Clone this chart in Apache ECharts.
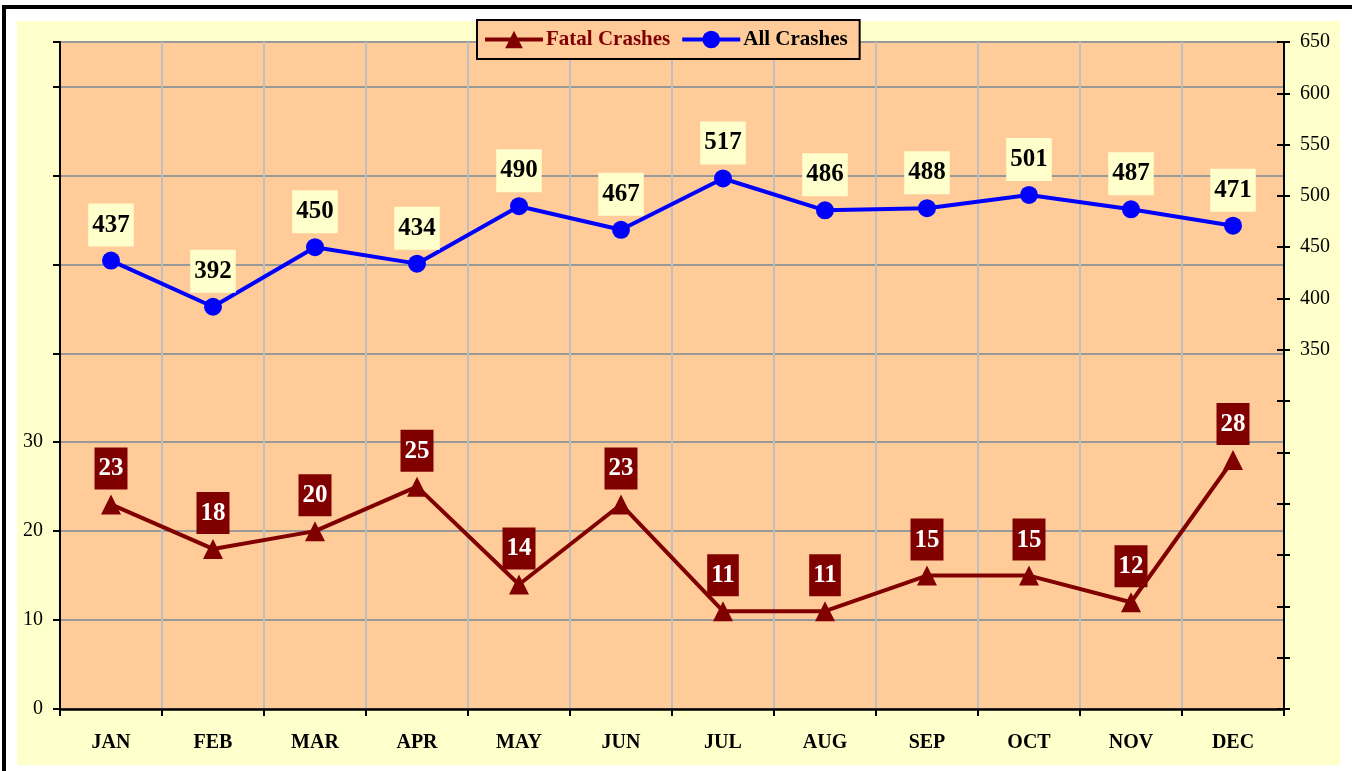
<!DOCTYPE html>
<html>
<head>
<meta charset="utf-8">
<script src="https://cdn.jsdelivr.net/npm/echarts@6/dist/echarts.min.js"></script>
<style>
  html, body { margin: 0; padding: 0; background: #ffffff; }
  #wrap { position: relative; width: 1352px; height: 771px; overflow: hidden; background: #ffffff; }
  #bL { position: absolute; left: 2px; top: 5px; width: 4px; height: 766px; background: #000; }
  #bT { position: absolute; left: 2px; top: 5px; width: 1350px; height: 4px; background: #000; }
  #yel { position: absolute; left: 17px; top: 21px; width: 1323px; height: 744px; background: #FFFFCC; }
  #chart { position: absolute; left: 0; top: 0; width: 1352px; height: 771px; }
</style>
</head>
<body>
<div id="wrap">
  <div id="bL"></div><div id="bT"></div><div id="yel"></div>
  <div id="chart"></div>
</div>
<script>
const months = ['JAN','FEB','MAR','APR','MAY','JUN','JUL','AUG','SEP','OCT','NOV','DEC'];
const fatalCrashes = [23, 18, 20, 25, 14, 23, 11, 11, 15, 15, 12, 28];
const allCrashes = [437, 392, 450, 434, 490, 467, 517, 486, 488, 501, 487, 471];
const leftLabelMax = 30;   // left axis labels shown up to this value
const rightLabelMin = 350; // right axis labels shown from this value

const SERIF = '"Liberation Serif", "Times New Roman", serif';
const DARKRED = '#800000';
const BLUE = '#0000FF';

const chart = echarts.init(document.getElementById('chart'));

chart.setOption({
  backgroundColor: 'transparent',
  animation: false,
  grid: { left: 60, right: 68, top: 42, bottom: 62, show: true, backgroundColor: '#FFCC99', borderWidth: 0, containLabel: false },
  legend: {
    left: 477, top: 20,
    orient: 'horizontal',
    backgroundColor: '#FFCC99',
    borderColor: '#000', borderWidth: 2,
    padding: [9, 12, 9, 6],
    itemGap: 10, itemWidth: 58, itemHeight: 22,
    lineStyle: { width: 4 },
    data: [
      { name: 'Fatal Crashes', textStyle: { color: DARKRED } },
      { name: 'All Crashes', textStyle: { color: '#000' } }
    ],
    textStyle: { fontFamily: SERIF, fontWeight: 'bold', fontSize: 21, padding: [0, 0, 0, -2] }
  },
  xAxis: {
    type: 'category', data: months, boundaryGap: true,
    axisLine: { show: true, lineStyle: { color: '#000', width: 2.5 } },
    axisTick: { show: true, length: 7, lineStyle: { color: '#000', width: 2 } },
    axisLabel: { fontFamily: SERIF, fontWeight: 'bold', fontSize: 20, color: '#000', margin: 24 },
    splitLine: { show: true, lineStyle: { color: '#BFBFBF', width: 2 } }
  },
  yAxis: [
    {
      type: 'value', position: 'left', min: 0, max: 75, interval: 10,
      axisLine: { show: true, lineStyle: { color: '#000', width: 2 } },
      axisTick: { show: true, length: 7, lineStyle: { color: '#000', width: 2 } },
      axisLabel: { fontFamily: SERIF, fontSize: 20, color: '#000', margin: 17,
        formatter: v => (v <= leftLabelMax ? String(v) : '') },
      splitLine: { show: true, lineStyle: { color: '#999999', width: 2 } }
    },
    {
      type: 'value', position: 'right', min: 0, max: 650, interval: 50,
      axisLine: { show: true, onZero: false, lineStyle: { color: '#000', width: 2 } },
      axisTick: { show: true, length: 6, lineStyle: { color: '#000', width: 2 } },
      axisLabel: { fontFamily: SERIF, fontSize: 20, color: '#000', margin: 16,
        formatter: v => (v >= rightLabelMin ? String(v) : '') },
      splitLine: { show: false }
    },
    {
      type: 'value', position: 'right', min: 0, max: 650, interval: 50,
      axisLine: { show: false },
      axisTick: { show: true, inside: true, length: 7, lineStyle: { color: '#000', width: 2 } },
      axisLabel: { show: false },
      splitLine: { show: false }
    }
  ],
  series: [
    {
      name: 'Fatal Crashes', type: 'line', yAxisIndex: 0, data: fatalCrashes,
      symbol: 'triangle', symbolSize: 20,
      lineStyle: { color: DARKRED, width: 4 },
      itemStyle: { color: DARKRED },
      label: {
        show: true, position: 'top', distance: 5,
        backgroundColor: DARKRED, color: '#fff',
        fontFamily: SERIF, fontWeight: 'bold', fontSize: 25, lineHeight: 25,
        padding: [9, 4, 8, 4]
      },
      z: 3
    },
    {
      name: 'All Crashes', type: 'line', yAxisIndex: 1, data: allCrashes,
      symbol: 'circle', symbolSize: 18,
      lineStyle: { color: BLUE, width: 4 },
      itemStyle: { color: BLUE },
      label: {
        show: true, position: 'top', distance: 5,
        backgroundColor: '#FFFFCC', color: '#000',
        fontFamily: SERIF, fontWeight: 'bold', fontSize: 25, lineHeight: 25,
        padding: [9, 4, 9, 4]
      },
      z: 3
    }
  ]
});
</script>
</body>
</html>
